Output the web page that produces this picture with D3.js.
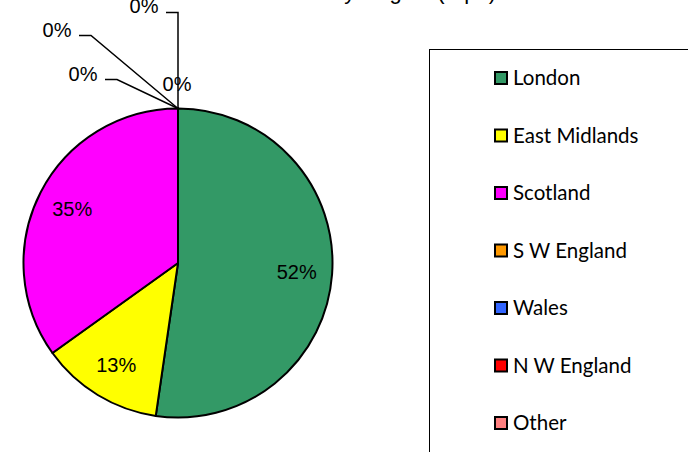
<!DOCTYPE html>
<html>
<head>
<meta charset="utf-8">
<script src="https://cdn.jsdelivr.net/npm/d3@7"></script>
<style>
  html, body { margin: 0; padding: 0; background: #fff; }
  svg { display: block; }
</style>
</head>
<body>
<div id="chart"></div>
<script>
// Share by region (%)
const regions = ["London", "East Midlands", "Scotland", "S W England", "Wales", "N W England", "Other"];
const shares = [52.3, 12.8, 34.9, 0, 0, 0, 0];
const colors = ["#339966", "#FFFF00", "#FF00FF", "#FF9900", "#3366FF", "#FF0000", "#FF8080"];
const title = "Investment by Region (%pa)";

// where the labels of the empty slices were pushed to (offset from the pie top)
const zeroLabelOffsets = [[-1, -25, 0], [-95, -35, 1], [-121, -79, 1], [-34, -103, 2]];

const W = 688, H = 452;
const cx = 178, cy = 263, R = 154.5;

const svg = d3.select("#chart").append("svg")
    .attr("width", W).attr("height", H);

// title, mostly above the picture's top edge
svg.append("text")
    .attr("x", 496).attr("y", -1.5)
    .attr("text-anchor", "end")
    .attr("font-family", "Liberation Sans, Arial, sans-serif")
    .attr("font-size", "22px")
    .attr("fill", "#000")
    .text(title);

const pie = d3.pie().sort(null).value(d => d);
const arcs = pie(shares);
const arc = d3.arc().innerRadius(0).outerRadius(R);
const labelArc = d3.arc().innerRadius(R * 0.77).outerRadius(R * 0.77);

const g = svg.append("g").attr("transform", `translate(${cx},${cy})`);

g.selectAll("path.slice")
    .data(arcs)
    .join("path")
    .attr("class", "slice")
    .attr("d", arc)
    .attr("fill", (d, i) => colors[i])
    .attr("stroke", "#000")
    .attr("stroke-width", 2)
    .attr("stroke-linejoin", "round");

// labels of the real slices
g.selectAll("text.pct")
    .data(arcs.filter(d => d.value > 0))
    .join("text")
    .attr("class", "pct")
    .attr("transform", d => `translate(${labelArc.centroid(d)})`)
    .attr("text-anchor", "middle")
    .attr("dy", "0.36em")
    .attr("font-family", "Liberation Sans, Arial, sans-serif")
    .attr("font-size", "20px")
    .attr("fill", "#000")
    .text(d => Math.round(d.value) + "%");

// labels of the empty slices, with leader lines back to the top of the pie
const zeros = arcs.filter(d => d.value === 0);
zeros.forEach((d, k) => {
    const top = [Math.sin(d.startAngle) * R, -Math.cos(d.startAngle) * R];
    const [ox, oy, kind] = zeroLabelOffsets[k];
    const lx = top[0] + ox, ly = top[1] + oy;
    if (kind === 1) {
        const hx = lx + 22, hy = ly + 6;
        g.append("path")
            .attr("d", `M${hx},${hy}H${hx + 12}L${top[0]},${top[1]}`)
            .attr("fill", "none").attr("stroke", "#000").attr("stroke-width", 1.5);
    } else if (kind === 2) {
        const hx = lx + 22, hy = ly + 7;
        g.append("path")
            .attr("d", `M${hx},${hy}H${top[0]}V${top[1]}`)
            .attr("fill", "none").attr("stroke", "#000").attr("stroke-width", 1.5);
    }
    g.append("text")
        .attr("x", lx).attr("y", ly)
        .attr("text-anchor", "middle")
        .attr("dy", "0.36em")
        .attr("font-family", "Liberation Sans, Arial, sans-serif")
        .attr("font-size", "20px")
        .attr("fill", "#000")
        .text(Math.round(d.value) + "%");
});

// legend box, running off the right and bottom edges
svg.append("rect")
    .attr("x", 429.5).attr("y", 49.5)
    .attr("width", 300).attr("height", 450)
    .attr("fill", "#fff")
    .attr("stroke", "#000")
    .attr("stroke-width", 1);

const ly = d3.scalePoint().domain(regions).range([78, 423]);
const leg = svg.selectAll("g.leg")
    .data(regions)
    .join("g")
    .attr("class", "leg")
    .attr("transform", d => `translate(495,${ly(d)})`);

leg.append("rect")
    .attr("x", 0).attr("y", -6)
    .attr("width", 12).attr("height", 12)
    .attr("fill", (d, i) => colors[i])
    .attr("stroke", "#000")
    .attr("stroke-width", 2);

leg.append("text")
    .attr("x", 18).attr("y", 0)
    .attr("dy", "0.36em")
    .attr("font-family", "Lato, sans-serif")
    .attr("font-size", "20.5px")
    .attr("fill", "#000")
    .text(d => d);
</script>
</body>
</html>
